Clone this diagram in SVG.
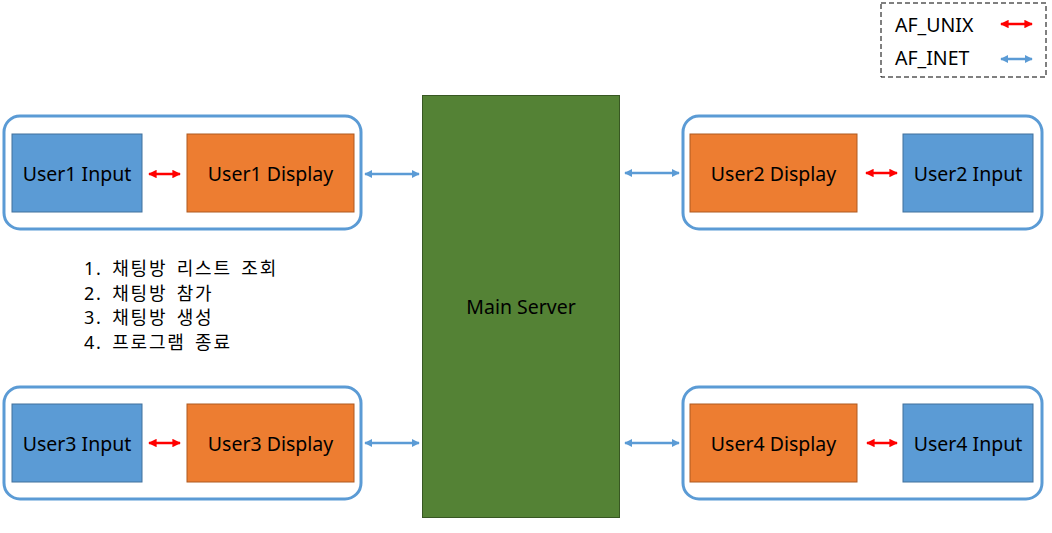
<svg xmlns="http://www.w3.org/2000/svg" width="1052" height="533" viewBox="0 0 1052 533">
<style>
text{font-family:"Noto Sans","Noto Sans CJK KR",sans-serif;font-size:19.5px;fill:#000}
.c{text-anchor:middle;dominant-baseline:central}
.kr{font-size:18px;letter-spacing:1.8px;word-spacing:3px}
.cont{fill:#fff;stroke:#5B9BD5;stroke-width:3}
.inp{fill:#5B9BD5;stroke:#41719C;stroke-width:1}
.disp{fill:#ED7D31;stroke:#AE5A21;stroke-width:1}
.red{stroke:#FF0000;stroke-width:2.5;fill:none;marker-start:url(#rs);marker-end:url(#re)}
.blue{stroke:#5B9BD5;stroke-width:2.5;fill:none;marker-start:url(#bs);marker-end:url(#be)}
</style>
<defs>
<marker id="re" viewBox="0 0 10 10" refX="9" refY="5" markerWidth="3.4" markerHeight="3.4" orient="auto" markerUnits="strokeWidth"><path d="M0,0 L10,5 L0,10 z" fill="#FF0000"/></marker>
<marker id="rs" viewBox="0 0 10 10" refX="1" refY="5" markerWidth="3.4" markerHeight="3.4" orient="auto" markerUnits="strokeWidth"><path d="M10,0 L0,5 L10,10 z" fill="#FF0000"/></marker>
<marker id="be" viewBox="0 0 10 10" refX="9" refY="5" markerWidth="3.2" markerHeight="3.2" orient="auto" markerUnits="strokeWidth"><path d="M0,0 L10,5 L0,10 z" fill="#5B9BD5"/></marker>
<marker id="bs" viewBox="0 0 10 10" refX="1" refY="5" markerWidth="3.2" markerHeight="3.2" orient="auto" markerUnits="strokeWidth"><path d="M10,0 L0,5 L10,10 z" fill="#5B9BD5"/></marker>
</defs>
<rect width="1052" height="533" fill="#fff"/>

<g id="legend">
<rect x="881" y="3" width="165" height="74" fill="#fff" stroke="#000" stroke-width="1" stroke-dasharray="5,3"/>
<text x="895" y="24" dominant-baseline="central">AF_UNIX</text>
<text x="895" y="57" dominant-baseline="central">AF_INET</text>
<line class="red" x1="1001" y1="24" x2="1032" y2="24"/>
<line class="blue" x1="1001" y1="59" x2="1032" y2="59"/>
</g>

<g id="group1"><rect class="cont" x="4" y="116" width="357" height="113" rx="16"/></g>
<g id="user1-input"><rect class="inp" x="12" y="134" width="130" height="78"/><text class="c" x="77" y="173">User1 Input</text></g>
<g id="user1-display"><rect class="disp" x="187" y="134" width="167" height="78"/><text class="c" x="270.5" y="173">User1 Display</text></g>

<g id="group2"><rect class="cont" x="683" y="116" width="359" height="113" rx="16"/></g>
<g id="user2-display"><rect class="disp" x="690" y="134" width="167" height="78"/><text class="c" x="773.5" y="173">User2 Display</text></g>
<g id="user2-input"><rect class="inp" x="903" y="134" width="130" height="78"/><text class="c" x="968" y="173">User2 Input</text></g>

<g id="group3"><rect class="cont" x="4" y="387" width="357" height="112" rx="16"/></g>
<g id="user3-input"><rect class="inp" x="12" y="404" width="130" height="78"/><text class="c" x="77" y="443">User3 Input</text></g>
<g id="user3-display"><rect class="disp" x="187" y="404" width="167" height="78"/><text class="c" x="270.5" y="443">User3 Display</text></g>

<g id="group4"><rect class="cont" x="683" y="387" width="359" height="112" rx="16"/></g>
<g id="user4-display"><rect class="disp" x="690" y="404" width="167" height="78"/><text class="c" x="773.5" y="443">User4 Display</text></g>
<g id="user4-input"><rect class="inp" x="903" y="404" width="130" height="78"/><text class="c" x="968" y="443">User4 Input</text></g>

<g id="main-server"><rect x="422.5" y="95.5" width="197" height="422" fill="#548235" stroke="#385723" stroke-width="1"/><text class="c" x="521" y="306">Main Server</text></g>

<g id="menu">
<text class="kr" dominant-baseline="central"><tspan x="84" y="268">1. 채팅방 리스트 조회</tspan><tspan x="84" y="292.5">2. 채팅방 참가</tspan><tspan x="84" y="317">3. 채팅방 생성</tspan><tspan x="84" y="341.5">4. 프로그램 종료</tspan></text>
</g>

<g id="connectors">
<line class="red" x1="149" y1="174" x2="180" y2="174"/>
<line class="blue" x1="365" y1="174" x2="419" y2="174"/>
<line class="red" x1="866" y1="173" x2="897" y2="173"/>
<line class="blue" x1="625" y1="173" x2="679" y2="173"/>
<line class="red" x1="149" y1="443" x2="180" y2="443"/>
<line class="blue" x1="365" y1="443" x2="419" y2="443"/>
<line class="red" x1="867" y1="443" x2="897" y2="443"/>
<line class="blue" x1="625" y1="443" x2="679" y2="443"/>
</g>
</svg>
